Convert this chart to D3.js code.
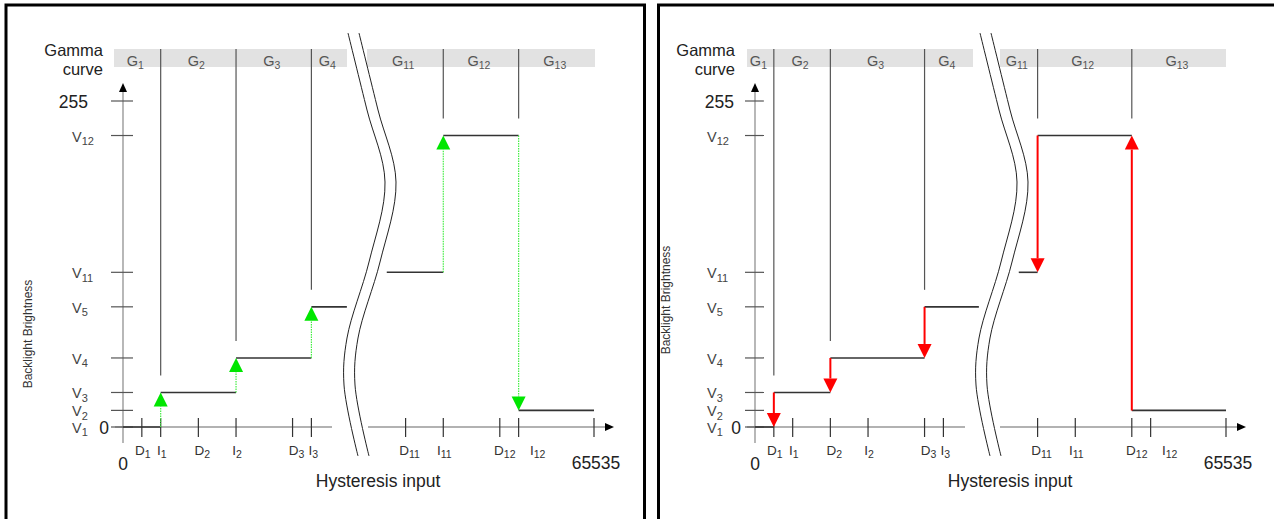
<!DOCTYPE html>
<html><head><meta charset="utf-8">
<script src="https://cdn.jsdelivr.net/npm/d3@7"></script>
<style>
body{margin:0;background:#fff;}
svg{display:block;}
text{font-family:"Liberation Sans",Arial,sans-serif;}
</style>
</head><body>
<svg id="c" width="1274" height="519"></svg>
<script>
// ---------------- DATA ----------------
const brightnessMax = 255;
const inputMax = 65535;
const levelNames  = ["V1", "V2", "V3", "V4", "V5", "V11", "V12"];
const levelValues = [0, 13, 27, 54, 94, 121, 228];
const thresholdNames  = ["D1", "I1", "D2", "I2", "D3", "I3", "D11", "I11", "D12", "I12"];
const thresholdValues = [2621, 5243, 10486, 15728, 23593, 26214, 39321, 44564, 52428, 55049];
const gammaNames = ["G1", "G2", "G3", "G4", "G11", "G12", "G13"];
// brightness level applied in each input interval (left to right)
const stepLevels = ["V1", "V3", "V4", "V5", "V11", "V12", "V2"];
// switching thresholds when input increases / decreases
const increasingSwitch = ["I1", "I2", "I3", "I11", "I12"];
const decreasingSwitch = ["D1", "D2", "D3", "D11", "D12"];
// axis break (hidden input range between G4 and G11)
const breakRange = [31150, 36700];

// ---------------- LAYOUT ----------------
const level = Object.fromEntries(levelNames.map((n, i) => [n, levelValues[i]]));
const thr = Object.fromEntries(thresholdNames.map((n, i) => [n, thresholdValues[i]]));
const AXIS_LEN = 471, Y0 = 427, Y255 = 101;
const panels = [
  { ox: 123, frame: [6, 5, 644.5], switches: increasingSwitch, mode: "up",
    barA: [-9, 224], barB: [244, 472], axA: [-8, 209], axB: [245, 483],
    n255: -35, vx: -51, tickL: -12, tickR: 10, blX: 32, blY: 334 },
  { ox: 755, frame: [658.5, 5, 1300], switches: decreasingSwitch, mode: "down",
    barA: [-8, 218], barB: [245, 471], axA: [-8, 210], axB: [245, 483],
    n255: -21, vx: -48, tickL: -10, tickR: 9, blX: 670, blY: 300 }
];
const labelShift = { D1: 1, I1: 1, D2: 4, I2: 1, D3: 4, I3: 2, D11: 4, I11: 1, D12: 5, I12: 19 };
const breakShape = [[225,33],[244,110],[262,182],[246,262],[224,338],[221,385],[235,456]];

const svg = d3.select("#c");
const y = d3.scaleLinear().domain([0, brightnessMax]).range([Y0, Y255]);

function subText(g, name, x, yb, size, sub, anchor, fill) {
  const m = name.match(/^([A-Z])(\d+)$/);
  const t = g.append("text").attr("x", x).attr("y", yb).attr("text-anchor", anchor || "start")
    .attr("fill", fill || "#333");
  t.append("tspan").attr("font-size", size).text(m[1]);
  t.append("tspan").attr("font-size", sub).attr("dy", sub * 0.3).text(m[2]);
  return t;
}

panels.forEach(p => {
  const g = svg.append("g");
  const x = d3.scaleLinear().domain([0, inputMax]).range([p.ox, p.ox + AXIS_LEN]);
  const ox = p.ox;

  // frame
  g.append("path")
    .attr("d", `M${p.frame[0]},560 V${p.frame[1]} H${p.frame[2]} V560`)
    .attr("fill", "none").attr("stroke", "#000").attr("stroke-width", 3);

  // gamma label
  g.append("text").attr("x", ox - 20).attr("y", 56).attr("text-anchor", "end")
    .attr("font-size", 16.5).attr("fill", "#222").text("Gamma");
  g.append("text").attr("x", ox - 20).attr("y", 75).attr("text-anchor", "end")
    .attr("font-size", 16.5).attr("fill", "#222").text("curve");

  // gamma bar
  [p.barA, p.barB].forEach(b => {
    g.append("rect").attr("x", ox + b[0]).attr("y", 49).attr("width", b[1] - b[0]).attr("height", 18)
      .attr("fill", "#e2e2e2");
  });
  const sw = p.switches.map(n => x(thr[n]));
  const gBounds = [
    [ox + p.barA[0], sw[0]], [sw[0], sw[1]], [sw[1], sw[2]], [sw[2], ox + p.barA[1]],
    [ox + p.barB[0], sw[3]], [sw[3], sw[4]], [sw[4], ox + p.barB[1]]
  ];
  gammaNames.forEach((n, i) => {
    subText(g, n, (gBounds[i][0] + gBounds[i][1]) / 2 - 2, 66, 14.5, 10.5, "middle", "#555");
  });

  // segments of the step function
  const segX = [
    [0, thr[p.switches[0]]], [thr[p.switches[0]], thr[p.switches[1]]],
    [thr[p.switches[1]], thr[p.switches[2]]], [thr[p.switches[2]], breakRange[0]],
    [breakRange[1], thr[p.switches[3]]], [thr[p.switches[3]], thr[p.switches[4]]],
    [thr[p.switches[4]], inputMax]
  ];
  // dividers
  p.switches.forEach((n, k) => {
    const a = k < 3 ? k : k + 1;
    const top = Math.max(level[stepLevels[a]], level[stepLevels[a + 1]]);
    g.append("line").attr("x1", x(thr[n])).attr("x2", x(thr[n]))
      .attr("y1", 49).attr("y2", y(top) - 17)
      .attr("stroke", "#555").attr("stroke-width", 1.2);
  });

  // y axis
  g.append("line").attr("x1", ox).attr("x2", ox).attr("y1", 443).attr("y2", 88)
    .attr("stroke", "#888").attr("stroke-width", 1.2);
  g.append("path").attr("d", `M${ox},83 L${ox - 4},92 L${ox + 4},92 Z`).attr("fill", "#000");
  const yTicks = levelValues.concat([brightnessMax]);
  yTicks.forEach(v => {
    g.append("line").attr("x1", ox + p.tickL).attr("x2", ox + p.tickR)
      .attr("y1", y(v)).attr("y2", y(v)).attr("stroke", "#555").attr("stroke-width", 1.2);
  });
  levelNames.forEach((n, i) => {
    subText(g, n, ox + p.vx, y(levelValues[i]) + 6, 14.5, 11, "start", "#444");
  });
  g.append("text").attr("x", ox + p.n255).attr("y", y(brightnessMax) + 7).attr("text-anchor", "end")
    .attr("font-size", 17.5).attr("fill", "#222").text(String(brightnessMax));
  g.append("text").attr("x", ox - 19).attr("y", y(0) + 7).attr("text-anchor", "middle")
    .attr("font-size", 17.5).attr("fill", "#222").text("0");
  g.append("text").attr("transform", `translate(${p.blX},${p.blY}) rotate(-90)`)
    .attr("text-anchor", "middle").attr("font-size", 12).attr("fill", "#333")
    .text("Backlight Brightness");

  // x axis
  [p.axA, p.axB].forEach(a => {
    g.append("line").attr("x1", ox + a[0]).attr("x2", ox + a[1]).attr("y1", Y0).attr("y2", Y0)
      .attr("stroke", "#666").attr("stroke-width", 1.2);
  });
  g.append("path").attr("d", `M${ox + p.axB[1] + 8},${Y0} L${ox + p.axB[1] - 1},${Y0 - 4} L${ox + p.axB[1] - 1},${Y0 + 4} Z`)
    .attr("fill", "#000");
  thresholdNames.forEach((n, i) => {
    const xv = x(thresholdValues[i]);
    g.append("line").attr("x1", xv).attr("x2", xv).attr("y1", Y0 - 9).attr("y2", Y0 + 10)
      .attr("stroke", "#333").attr("stroke-width", 1.2);
    subText(g, n, xv + labelShift[n], 455, 13.5, 10.5, "middle", "#333");
  });
  g.append("line").attr("x1", x(inputMax)).attr("x2", x(inputMax)).attr("y1", Y0 - 9).attr("y2", Y0 + 10)
    .attr("stroke", "#333").attr("stroke-width", 1.2);
  g.append("text").attr("x", x(inputMax) + 2).attr("y", 469).attr("text-anchor", "middle")
    .attr("font-size", 17.5).attr("fill", "#222").text(String(inputMax));
  g.append("text").attr("x", x(0)).attr("y", 470).attr("text-anchor", "middle")
    .attr("font-size", 17.5).attr("fill", "#222").text("0");
  g.append("text").attr("x", ox + 255).attr("y", 487).attr("text-anchor", "middle")
    .attr("font-size", 17.5).attr("fill", "#222").text("Hysteresis input");

  // break symbol
  const bl = d3.line().curve(d3.curveCatmullRom.alpha(0.5));
  [0, 11].forEach(off => {
    g.append("path").attr("d", bl(breakShape.map(d => [ox + d[0] + off, d[1]])))
      .attr("fill", "none").attr("stroke", "#222").attr("stroke-width", 1);
  });

  // step function
  stepLevels.forEach((n, i) => {
    g.append("line").attr("x1", x(segX[i][0])).attr("x2", x(segX[i][1]))
      .attr("y1", y(level[n])).attr("y2", y(level[n]))
      .attr("stroke", "#333").attr("stroke-width", 1.6);
  });

  // transitions
  p.switches.forEach((n, k) => {
    const a = k < 3 ? k : k + 1;
    let from = level[stepLevels[a]], to = level[stepLevels[a + 1]];
    if (p.mode === "down") { const t = from; from = to; to = t; }
    const xv = x(thr[n]);
    const y1 = y(from), y2 = y(to);
    const dir = y2 < y1 ? -1 : 1; // -1 up on screen
    const base = y2 - dir * 14;
    const col = p.mode === "up" ? "#00e600" : "#ff0000";
    g.append("line").attr("x1", xv).attr("x2", xv).attr("y1", y1).attr("y2", base)
      .attr("stroke", p.mode === "up" ? "#44ee44" : "#ff0000")
      .attr("stroke-width", p.mode === "up" ? 1.2 : 2)
      .attr("stroke-dasharray", p.mode === "up" ? "1.5,1" : null);
    g.append("path").attr("d", `M${xv},${y2} L${xv - 7},${base} L${xv + 7},${base} Z`).attr("fill", col);
  });
});
</script>
</body></html>
